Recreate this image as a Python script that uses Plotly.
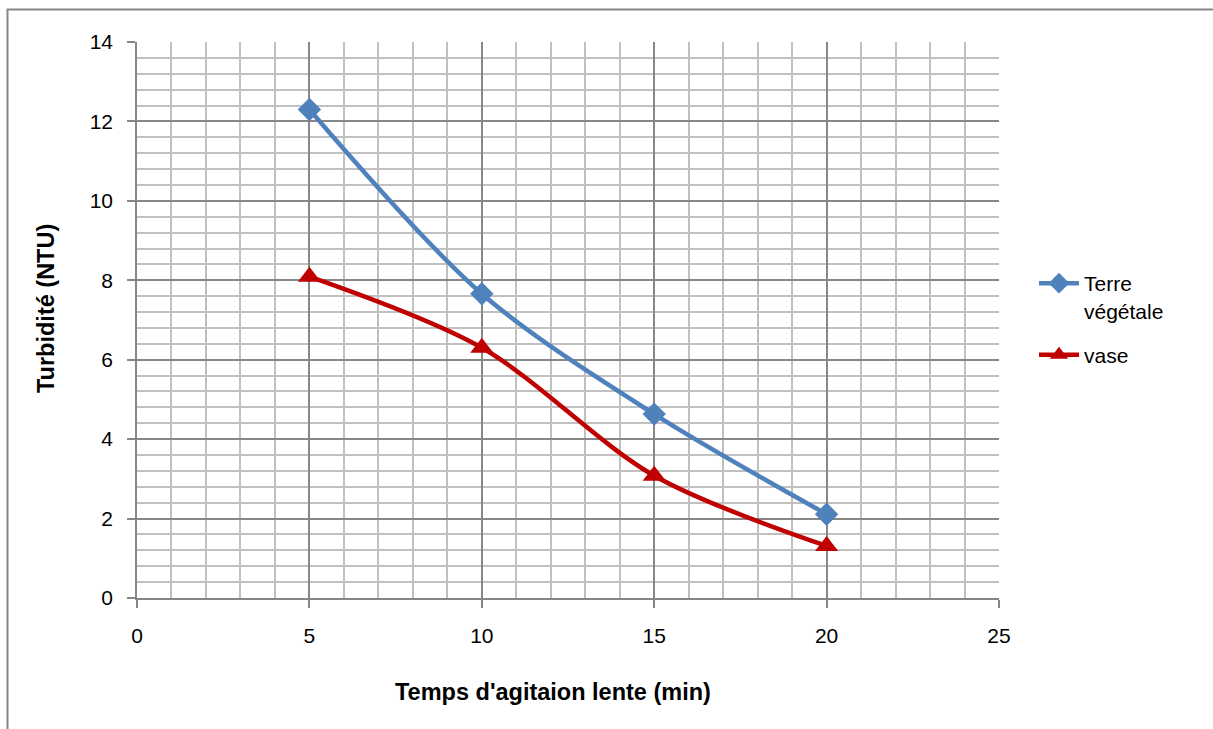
import plotly.graph_objects as go

# Temps d'agitation lente (min)
temps = [5, 10, 15, 20]

# Turbidité résiduelle (NTU)
terre_vegetale = [12.3, 7.66, 4.63, 2.11]
vase = [8.09, 6.3, 3.08, 1.31]

x_ticks = [0, 5, 10, 15, 20, 25]
y_ticks = [0, 2, 4, 6, 8, 10, 12, 14]

FONT = "Liberation Sans"
W, H = 1213, 729
L, R, T, B = 137, 999, 42, 598

fig = go.Figure()

fig.add_trace(go.Scatter(
    x=temps, y=terre_vegetale, name="Terre<br>végétale", legendgroup="a",
    mode="lines+markers",
    line=dict(color="#4f81bd", width=4.5, shape="spline", smoothing=0.9),
    marker=dict(symbol="diamond", size=18, color="#4f81bd"),
))
fig.add_trace(go.Scatter(
    x=temps, y=vase, name="vase", legendgroup="b",
    mode="lines+markers",
    line=dict(color="#c00000", width=4.5, shape="spline", smoothing=0.9),
    marker=dict(symbol="triangle-up", size=20, color="#c00000"),
))

grid_major = "#878787"
grid_minor = "#c0c0c0"

fig.update_xaxes(
    range=[0, 25], tickvals=x_ticks, ticktext=[str(v) for v in x_ticks],
    showgrid=True, gridcolor=grid_major, gridwidth=1.5,
    minor=dict(dtick=1, showgrid=True, gridcolor=grid_minor, gridwidth=1.5),
    showline=True, linecolor="#868686", linewidth=1.5, mirror=False,
    ticks="outside", ticklen=8, tickcolor="#868686", tickwidth=1.5,
    ticklabelstandoff=10,
    tickfont=dict(family=FONT, size=21, color="#000000"),
    zeroline=False,
)
fig.update_yaxes(
    range=[0, 14], tickvals=y_ticks, ticktext=[str(v) for v in y_ticks],
    showgrid=True, gridcolor=grid_major, gridwidth=1.5,
    minor=dict(dtick=0.4, showgrid=True, gridcolor=grid_minor, gridwidth=1.5),
    showline=True, linecolor="#868686", linewidth=1.5,
    ticks="outside", ticklen=8, tickcolor="#868686", tickwidth=1.5,
    ticklabelstandoff=10,
    tickfont=dict(family=FONT, size=21, color="#000000"),
    zeroline=False,
)

pw, ph = R - L, B - T

# Axis titles, placed relative to the chart frame
fig.add_annotation(
    text="<b>Temps d'agitaion lente (min)</b>", xref="paper", yref="paper",
    x=(553 - L) / pw, y=(B - 692) / ph, xanchor="center", yanchor="middle",
    showarrow=False, font=dict(family=FONT, size=23.5, color="#000000"),
)
fig.add_annotation(
    text="<b>Turbidité (NTU)</b>", xref="paper", yref="paper", textangle=-90,
    x=(46 - L) / pw, y=(B - 309) / ph, xanchor="center", yanchor="middle",
    showarrow=False, font=dict(family=FONT, size=23.5, color="#000000"),
)

# Chart frame (extends past the right and bottom edges of the page)
fig.add_shape(
    type="rect", xref="paper", yref="paper",
    x0=(7.5 - L) / pw, x1=(W + 20 - L) / pw,
    y0=(B - (H + 20)) / ph, y1=(B - 9.5) / ph,
    line=dict(color="#868686", width=2), fillcolor="rgba(0,0,0,0)", layer="below",
)

fig.update_layout(
    width=W, height=H,
    margin=dict(l=L, r=W - R, t=T, b=H - B, pad=0),
    paper_bgcolor="white", plot_bgcolor="white",
    showlegend=True,
    legend=dict(
        x=(1034 - L) / pw, y=(B - 263) / ph, xanchor="left", yanchor="top",
        font=dict(family=FONT, size=21, color="#000000"),
        valign="top", itemwidth=40, tracegroupgap=14,
        bgcolor="rgba(0,0,0,0)",
    ),
)

fig.write_html("out.html")
